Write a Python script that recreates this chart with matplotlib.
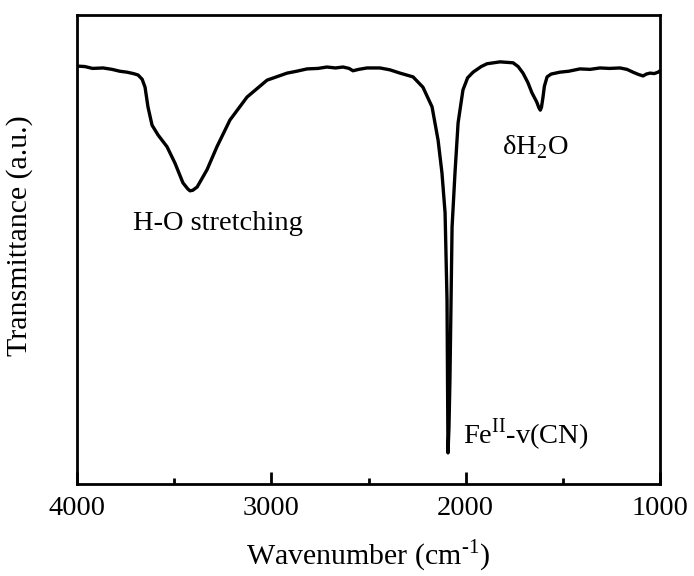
import numpy as np
import matplotlib
matplotlib.use('Agg')
import matplotlib.pyplot as plt

plt.rcParams['font.family'] = ['Liberation Serif', 'DejaVu Serif']
plt.rcParams['mathtext.fontset'] = 'custom'
plt.rcParams['mathtext.rm'] = 'Liberation Serif'

# spectrum (wavenumber in cm-1, transmittance in arbitrary %)
wavenumber = [4000, 3960, 3920, 3866, 3820, 3780, 3743, 3710, 3686, 3665, 3650,
              3635, 3614, 3583, 3537, 3496, 3455, 3430, 3419, 3405, 3382, 3331,
              3280, 3213, 3125, 3022, 2919, 2870, 2816, 2760, 2714, 2670, 2631,
              2600, 2580, 2550, 2508, 2441, 2390, 2338, 2271, 2220, 2173, 2142,
              2122, 2106, 2096, 2091, 2086, 2081, 2070, 2055, 2039, 2014, 1990,
              1962, 1920, 1890, 1823, 1756, 1730, 1705, 1680, 1659, 1635, 1623,
              1616, 1610, 1602, 1595, 1581, 1560, 1515, 1470, 1412, 1360, 1309,
              1260, 1206, 1170, 1139, 1110, 1087, 1070, 1051, 1030, 1010, 1000]
transmittance = [89.1, 89.0, 88.6, 88.7, 88.4, 88.0, 87.8, 87.5, 87.2, 86.3, 84.6,
                 80.4, 76.5, 74.4, 71.9, 68.4, 64.2, 62.9, 62.5, 62.6, 63.3, 67.0,
                 71.9, 77.6, 82.5, 86.1, 87.6, 88.0, 88.5, 88.6, 88.9, 88.7, 88.9,
                 88.6, 88.1, 88.4, 88.7, 88.7, 88.3, 87.6, 86.8, 84.6, 80.4, 73.3,
                 66.3, 57.8, 39.2, 6.6, 12.0, 22.2, 54.8, 66.3, 77.0, 84.0, 86.6,
                 87.8, 89.0, 89.6, 90.0, 89.8, 89.0, 87.6, 85.6, 83.4, 81.5, 80.2,
                 79.7, 80.3, 82.5, 84.8, 86.8, 87.4, 87.8, 88.0, 88.5, 88.4, 88.7,
                 88.6, 88.7, 88.4, 87.8, 87.3, 87.0, 87.4, 87.6, 87.5, 87.8, 88.1]

labels = ['H-O stretching', 'δH$_2$O', r'Fe$^{\mathrm{II}}$-v(CN)']
label_x = [3274, 1643, 2016]
label_y = [55.6, 71.9, 10.4]

fig = plt.figure(figsize=(6.94, 5.76), dpi=100)
ax = fig.add_axes([0.111, 0.16, 0.84, 0.814])

ax.plot(wavenumber, transmittance, color='black', lw=2.4)

ax.set_xlim(4000, 1000)
ax.set_ylim(0, 100)
ax.set_xticks([4000, 3000, 2000, 1000])
ax.set_xticks([3500, 2500, 1500], minor=True)
ax.set_yticks([])
ax.tick_params(axis='x', which='major', direction='in', length=9, width=2,
               labelsize=20.5, pad=9)
ax.tick_params(axis='x', which='minor', direction='in', length=4, width=2)
for s in ax.spines.values():
    s.set_linewidth(2)

ax.set_xlabel(r'Wavenumber (cm$^{\text{-1}}$)', fontsize=21.5, labelpad=12)
ax.set_ylabel('Transmittance (a.u.)', fontsize=21.5)
ax.yaxis.set_label_coords(-0.075, 0.53)

ax.text(label_x[0], label_y[0], labels[0], fontsize=20.5, ha='center', va='center')
ax.text(label_x[1], label_y[1], labels[1], fontsize=20.5, ha='center', va='center')
ax.text(label_x[2], label_y[2], labels[2], fontsize=20.5, ha='left', va='center')

fig.savefig('out.png', dpi=100)
